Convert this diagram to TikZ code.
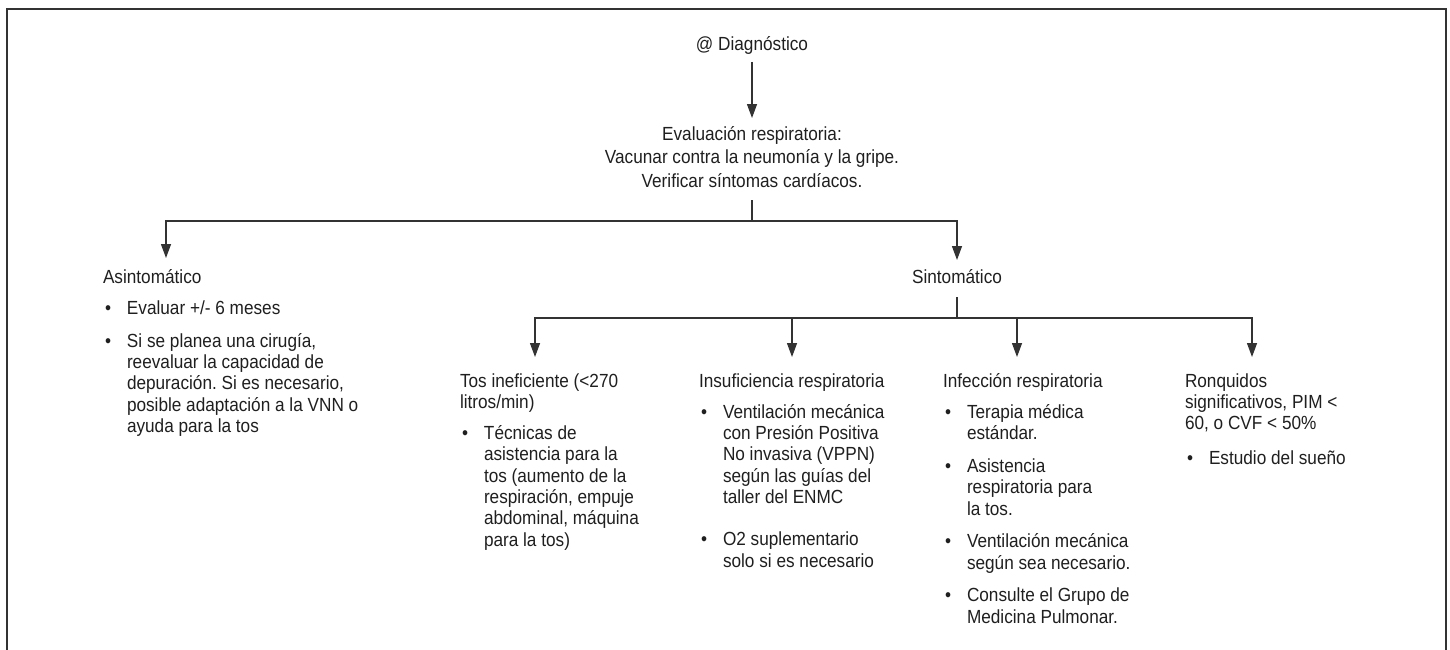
\documentclass[tikz,border=0pt]{standalone}
\usepackage{fontspec}
\setmainfont{Liberation Sans}[FakeStretch=0.905]
\usetikzlibrary{arrows.meta}
\frenchspacing
\tikzset{
  txt/.style={inner sep=0pt, outer sep=0pt, text=black!88, font=\fontsize{19}{21.3}\selectfont},
  col/.style={txt, anchor=base west, align=left},
  conn/.style={draw=black!80, line width=1.3pt},
  arr/.style={conn, -{Triangle[length=14pt,width=10pt]}},
  frame/.style={draw=black!80, line width=2pt}
}
\newcommand\bl{\hspace*{2pt}\makebox[22pt][l]{\textbullet}}
\newcommand\ct{\hspace*{24pt}}
\begin{document}
\begin{tikzpicture}[x=1pt,y=-1pt]
\useasboundingbox (0,0) rectangle (1450,649);
\draw[frame] (7,652) -- (7,9) -- (1446,9) -- (1446,652);

% base anchor of a multi-line node = baseline of its last line
\node[txt, anchor=base] (diag) at (752,50) {@ Diagnóstico};
\node[txt, anchor=base, align=center, font=\fontsize{19}{23.5}\selectfont] (eval) at (752,187)
  {Evaluación respiratoria:\\Vacunar contra la neumonía y la gripe.\\Verificar síntomas cardíacos.};
\draw[arr, shorten <=8pt, shorten >=8pt] (diag) -- (eval);

\coordinate (b1) at (752,221);
\coordinate (asinT) at (166,258);
\draw[conn, shorten <=13pt] (eval) -- (b1);
\draw[arr] (b1) -| (asinT);

\node[col] (asin) at (103,432.3) {Asintomático\\[10pt]
\bl Evaluar +/- 6 meses\\[11.5pt]
\bl Si se planea una cirugía,\\
\ct reevaluar la capacidad de\\
\ct depuración. Si es necesario,\\
\ct posible adaptación a la VNN o\\
\ct ayuda para la tos};

\node[txt, anchor=base] (sint) at (957,283) {Sintomático};
\draw[arr, shorten >=9pt] (b1) -| (sint);

\coordinate (b2) at (957,318);
\draw[conn, shorten <=14pt] (sint) -- (b2);
\coordinate (t1) at (535,357);
\coordinate (t2) at (792,357);
\coordinate (t3) at (1017,357);
\coordinate (t4) at (1252,357);
\draw[arr] (b2) -| (t1);
\draw[arr] (b2) -| (t2);
\draw[arr] (b2) -| (t3);
\draw[arr] (b2) -| (t4);

\node[col] (tos) at (460,546.1) {Tos ineficiente (<270\\litros/min)\\[10pt]
\bl Técnicas de\\
\ct asistencia para la\\
\ct tos (aumento de la\\
\ct respiración, empuje\\
\ct abdominal, máquina\\
\ct para la tos)};

\node[col] (insuf) at (699,567.1) {Insuficiencia respiratoria\\[10pt]
\bl Ventilación mecánica\\
\ct con Presión Positiva\\
\ct No invasiva (VPPN)\\
\ct según las guías del\\
\ct taller del ENMC\\[21pt]
\bl O2 suplementario\\
\ct solo si es necesario};

\node[col] (inf) at (943,623.2) {Infección respiratoria\\[10pt]
\bl Terapia médica\\
\ct estándar.\\[11.5pt]
\bl Asistencia\\
\ct respiratoria para\\
\ct la tos.\\[11.5pt]
\bl Ventilación mecánica\\
\ct según sea necesario.\\[11.5pt]
\bl Consulte el Grupo de\\
\ct Medicina Pulmonar.};

\node[col] (ronq) at (1185,464) {Ronquidos\\
significativos, PIM <\\
60, o CVF < 50\%\\[13pt]
\bl Estudio del sueño};
\end{tikzpicture}
\end{document}
